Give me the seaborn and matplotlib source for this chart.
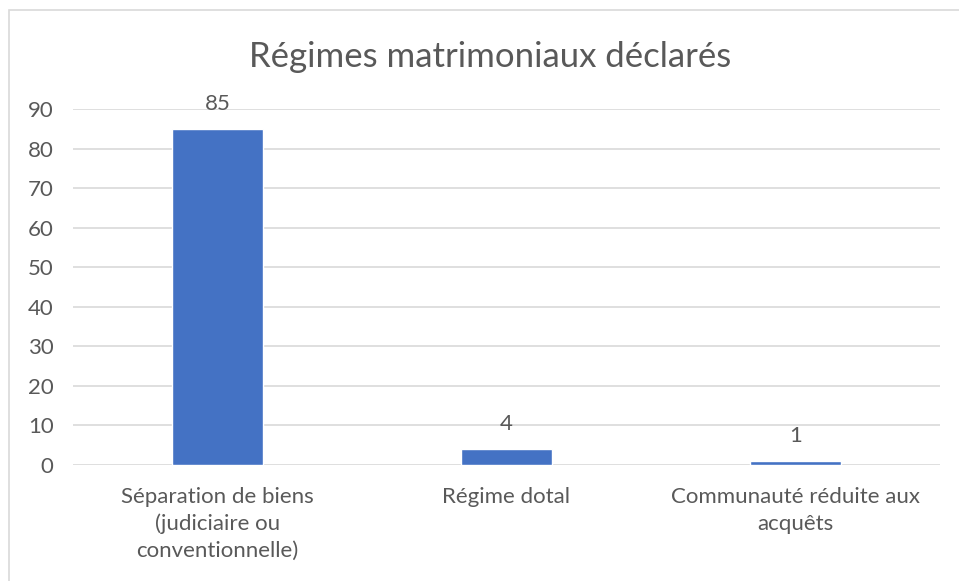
import matplotlib
matplotlib.use("Agg")
import matplotlib.pyplot as plt
import matplotlib.patches as mpatches
import seaborn as sns
import pandas as pd

# ─── Data ─────────────────────────────────────────────────────────────────────
categories = [
    "Séparation de biens\n(judiciaire ou\nconventionnelle)",
    "Régime dotal",
    "Communauté réduite aux\nacquêts",
]
counts = [85, 4, 1]
y_ticks = [0, 10, 20, 30, 40, 50, 60, 70, 80, 90]

TEXT = "#595959"
BAR = "#4472C4"
GRID = "#D9D9D9"

sns.set_theme(style="white")
plt.rcParams["font.family"] = ["Lato", "DejaVu Sans"]

df = pd.DataFrame({"cat": categories, "n": counts})

fig = plt.figure(figsize=(9.59, 5.81), dpi=100)
ax = fig.add_axes([73 / 959, 1 - 465 / 581, 867 / 959, 356 / 581])

sns.barplot(data=df, x="cat", y="n", color=BAR, saturation=1, width=0.315, ax=ax)

ax.set_ylim(0, 90)
ax.set_yticks(y_ticks)
ax.yaxis.grid(True, color=GRID, linewidth=1.2)
ax.set_axisbelow(True)
for s in ax.spines.values():
    s.set_visible(False)
ax.tick_params(axis="both", length=0, labelsize=16, colors=TEXT)
ax.tick_params(axis="y", pad=14)
ax.tick_params(axis="x", pad=16)
for lbl in ax.get_xticklabels():
    lbl.set_linespacing(1.4)
ax.set_xlabel("")
ax.set_ylabel("")
ax.bar_label(ax.containers[0], padding=11, fontsize=16, color=TEXT)

fig.text(490 / 959, 1 - 57 / 581, "Régimes matrimoniaux déclarés",
         ha="center", va="center", fontsize=25, color=TEXT)

# chart border (Excel style)
fig.patches.append(mpatches.Rectangle((9 / 959, -0.05), 1.1, 1 - 10 / 581 + 0.05,
                                      transform=fig.transFigure, fill=False,
                                      edgecolor=GRID, linewidth=1.2))

fig.savefig("out.png", dpi=100)
